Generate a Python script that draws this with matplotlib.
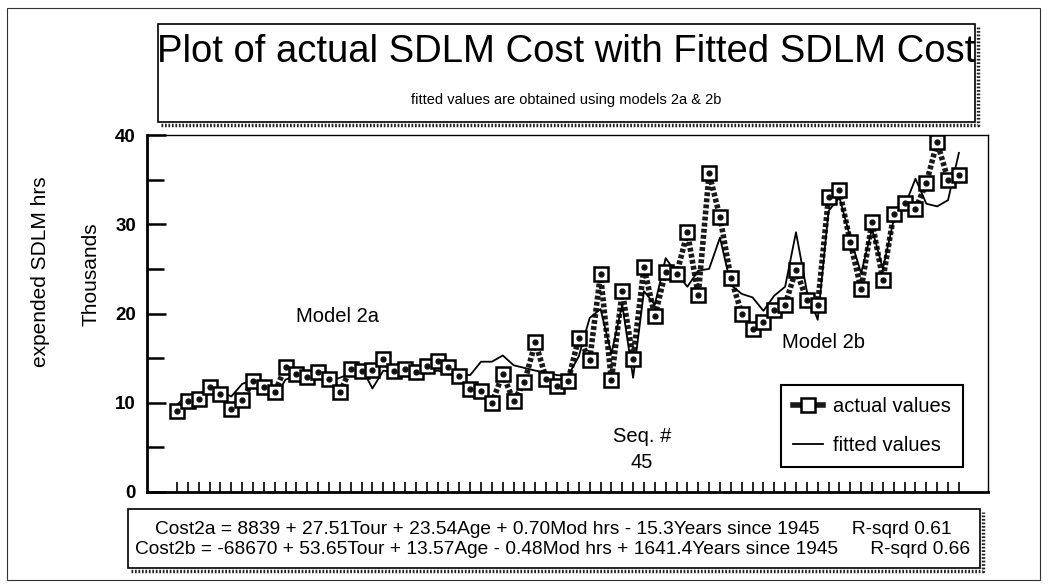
import numpy as np
import matplotlib.pyplot as plt
from matplotlib.lines import Line2D
from matplotlib.patches import Rectangle

plt.rcParams['font.family'] = ['Liberation Sans', 'DejaVu Sans']

# data (thousands of SDLM hrs), sequence 1..73
actual = [9.1, 10.2, 10.4, 11.8, 11.0, 9.3, 10.3, 12.4, 11.8, 11.2,
          14.0, 13.2, 12.9, 13.4, 12.7, 11.2, 13.8, 13.6, 13.7, 14.9,
          13.6, 13.8, 13.4, 14.1, 14.7, 14.0, 13.0, 11.5, 11.3, 10.0,
          13.2, 10.2, 12.3, 16.8, 12.7, 11.9, 12.4, 17.3, 14.8, 24.4,
          12.5, 22.5, 14.9, 25.2, 19.7, 24.7, 24.4, 29.1, 22.1, 35.7,
          30.8, 24.0, 20.0, 18.3, 19.0, 20.4, 21.0, 24.9, 21.5, 21.0,
          33.1, 33.8, 28.0, 22.7, 30.3, 23.8, 31.1, 32.4, 31.7, 34.6,
          39.2, 35.0, 35.5]
fitted = [9.8, 10.8, 11.0, 11.5, 11.3, 10.7, 12.1, 12.6, 11.4, 10.6,
          12.6, 13.0, 12.6, 12.8, 12.4, 12.8, 13.3, 13.9, 11.6, 13.6,
          13.4, 13.0, 13.2, 13.4, 13.6, 13.3, 13.2, 13.1, 14.6, 14.6,
          15.3, 14.2, 13.9, 13.6, 13.4, 13.1, 13.0, 15.2, 19.5, 20.5,
          15.5, 21.0, 12.8, 22.5, 21.0, 26.2, 24.5, 23.0, 24.8, 25.0,
          28.5, 23.2, 22.2, 21.8, 20.3, 22.0, 23.0, 29.1, 22.5, 19.3,
          31.5, 33.0, 28.5, 24.5, 29.5, 25.0, 30.5, 32.0, 35.1, 32.3,
          32.0, 32.7, 38.0]
seq = np.arange(len(actual))
y_ticks = [0, 10, 20, 30, 40]
y_minor = [5, 15, 25, 35]

eq_a = 'Cost2a = 8839 + 27.51Tour + 23.54Age + 0.70Mod hrs - 15.3Years since 1945      R-sqrd 0.61'
eq_b = 'Cost2b = -68670 + 53.65Tour + 13.57Age - 0.48Mod hrs + 1641.4Years since 1945      R-sqrd 0.66'

W, H = 1052, 588
fig = plt.figure(figsize=(W / 100, H / 100), dpi=100)


def fx(x):
    return x / W


def fy(y):
    return 1 - y / H


def box(x0, y0, x1, y1, lw=1.2):
    fig.add_artist(Rectangle((fx(x0), fy(y1)), fx(x1) - fx(x0), fy(y0) - fy(y1),
                             transform=fig.transFigure, fill=False, edgecolor='black', linewidth=lw))
    # dotted shadow on bottom and right
    fig.add_artist(Line2D([fx(x0 + 3), fx(x1 + 3), fx(x1 + 3)], [fy(y1 + 3), fy(y1 + 3), fy(y0 + 3)],
                          transform=fig.transFigure, color='#222222', linewidth=2.5,
                          linestyle=(0, (0.5, 0.5))))


# outer frame
fig.add_artist(Rectangle((fx(7), fy(580)), fx(1040) - fx(7), fy(8) - fy(580),
                         transform=fig.transFigure, fill=False, edgecolor='#333333', linewidth=0.8))

# title box
box(158, 24, 975, 122)
fig.text(fx(566), fy(52), 'Plot of actual SDLM Cost with Fitted SDLM Cost', fontsize=27.5,
         ha='center', va='center')
fig.text(fx(566), fy(100), 'fitted values are obtained using models 2a & 2b', fontsize=10.5,
         ha='center', va='center')

# main axes
ax = fig.add_axes([fx(147), fy(492), fx(988) - fx(147), fy(135) - fy(492)])
ax.plot(seq, actual, color='#1a1a1a', linewidth=4, linestyle=(0, (0.7, 0.4)), zorder=2)
ax.plot(seq, fitted, color='black', linewidth=1.3, zorder=3)
ax.plot(seq, actual, linestyle='none', marker='s', markersize=9.5, markerfacecolor='white',
        markeredgecolor='black', markeredgewidth=1.8, zorder=4)
ax.plot(seq, actual, linestyle='none', marker='o', markersize=3.5, color='#111111', zorder=5)

ax.set_xlim(-2.76, 74.68)
ax.set_ylim(0, 40)
ax.set_xticks(seq)
ax.set_xticklabels([])
ax.set_yticks(y_ticks)
ax.set_yticks(y_minor, minor=True)
ax.set_yticklabels([str(v) for v in y_ticks], fontsize=13.5, fontweight='bold')
ax.tick_params(axis='x', direction='in', length=7, width=1.2)
ax.tick_params(axis='y', which='major', direction='in', length=14, width=1.8, pad=8)
ax.tick_params(axis='y', which='minor', direction='in', length=12, width=1.8)
for side in ['left', 'bottom']:
    ax.spines[side].set_linewidth(2)
for side in ['top', 'right']:
    ax.spines[side].set_linewidth(1)

fig.text(fx(337), fy(316), 'Model 2a', fontsize=14.5, ha='center', va='center')
fig.text(fx(824), fy(343), 'Model 2b', fontsize=14.5, ha='center', va='center')
fig.text(fx(642), fy(437), 'Seq. #', fontsize=14.5, ha='center', va='center')
fig.text(fx(642), fy(462), '45', fontsize=14.5, ha='center', va='center')

fig.text(fx(41), fy(272), 'expended SDLM hrs', fontsize=15, rotation=90, ha='center', va='center')
fig.text(fx(91), fy(274), 'Thousands', fontsize=15, rotation=90, ha='center', va='center')

handles = [Line2D([], [], color='#1a1a1a', linewidth=4, marker='s', markersize=9.5,
                  markerfacecolor='white', markeredgecolor='black', markeredgewidth=1.8),
           Line2D([], [], color='black', linewidth=1.3)]
leg = ax.legend(handles, ['actual values', 'fitted values'], loc='upper left',
                bbox_to_anchor=(fx(781), fy(385)), bbox_transform=fig.transFigure,
                fontsize=14.5, frameon=True, fancybox=False, edgecolor='black',
                borderpad=0.6, labelspacing=1.0, handlelength=1.5, handletextpad=0.5,
                borderaxespad=0)
leg.get_frame().set_linewidth(1.5)
leg.get_frame().set_alpha(1)

# equation box
box(128, 509, 980, 568)
fig.text(fx(553), fy(530), eq_a, fontsize=13.8, ha='center', va='center')
fig.text(fx(553), fy(550), eq_b, fontsize=13.8, ha='center', va='center')

fig.savefig('out.png', dpi=100)
